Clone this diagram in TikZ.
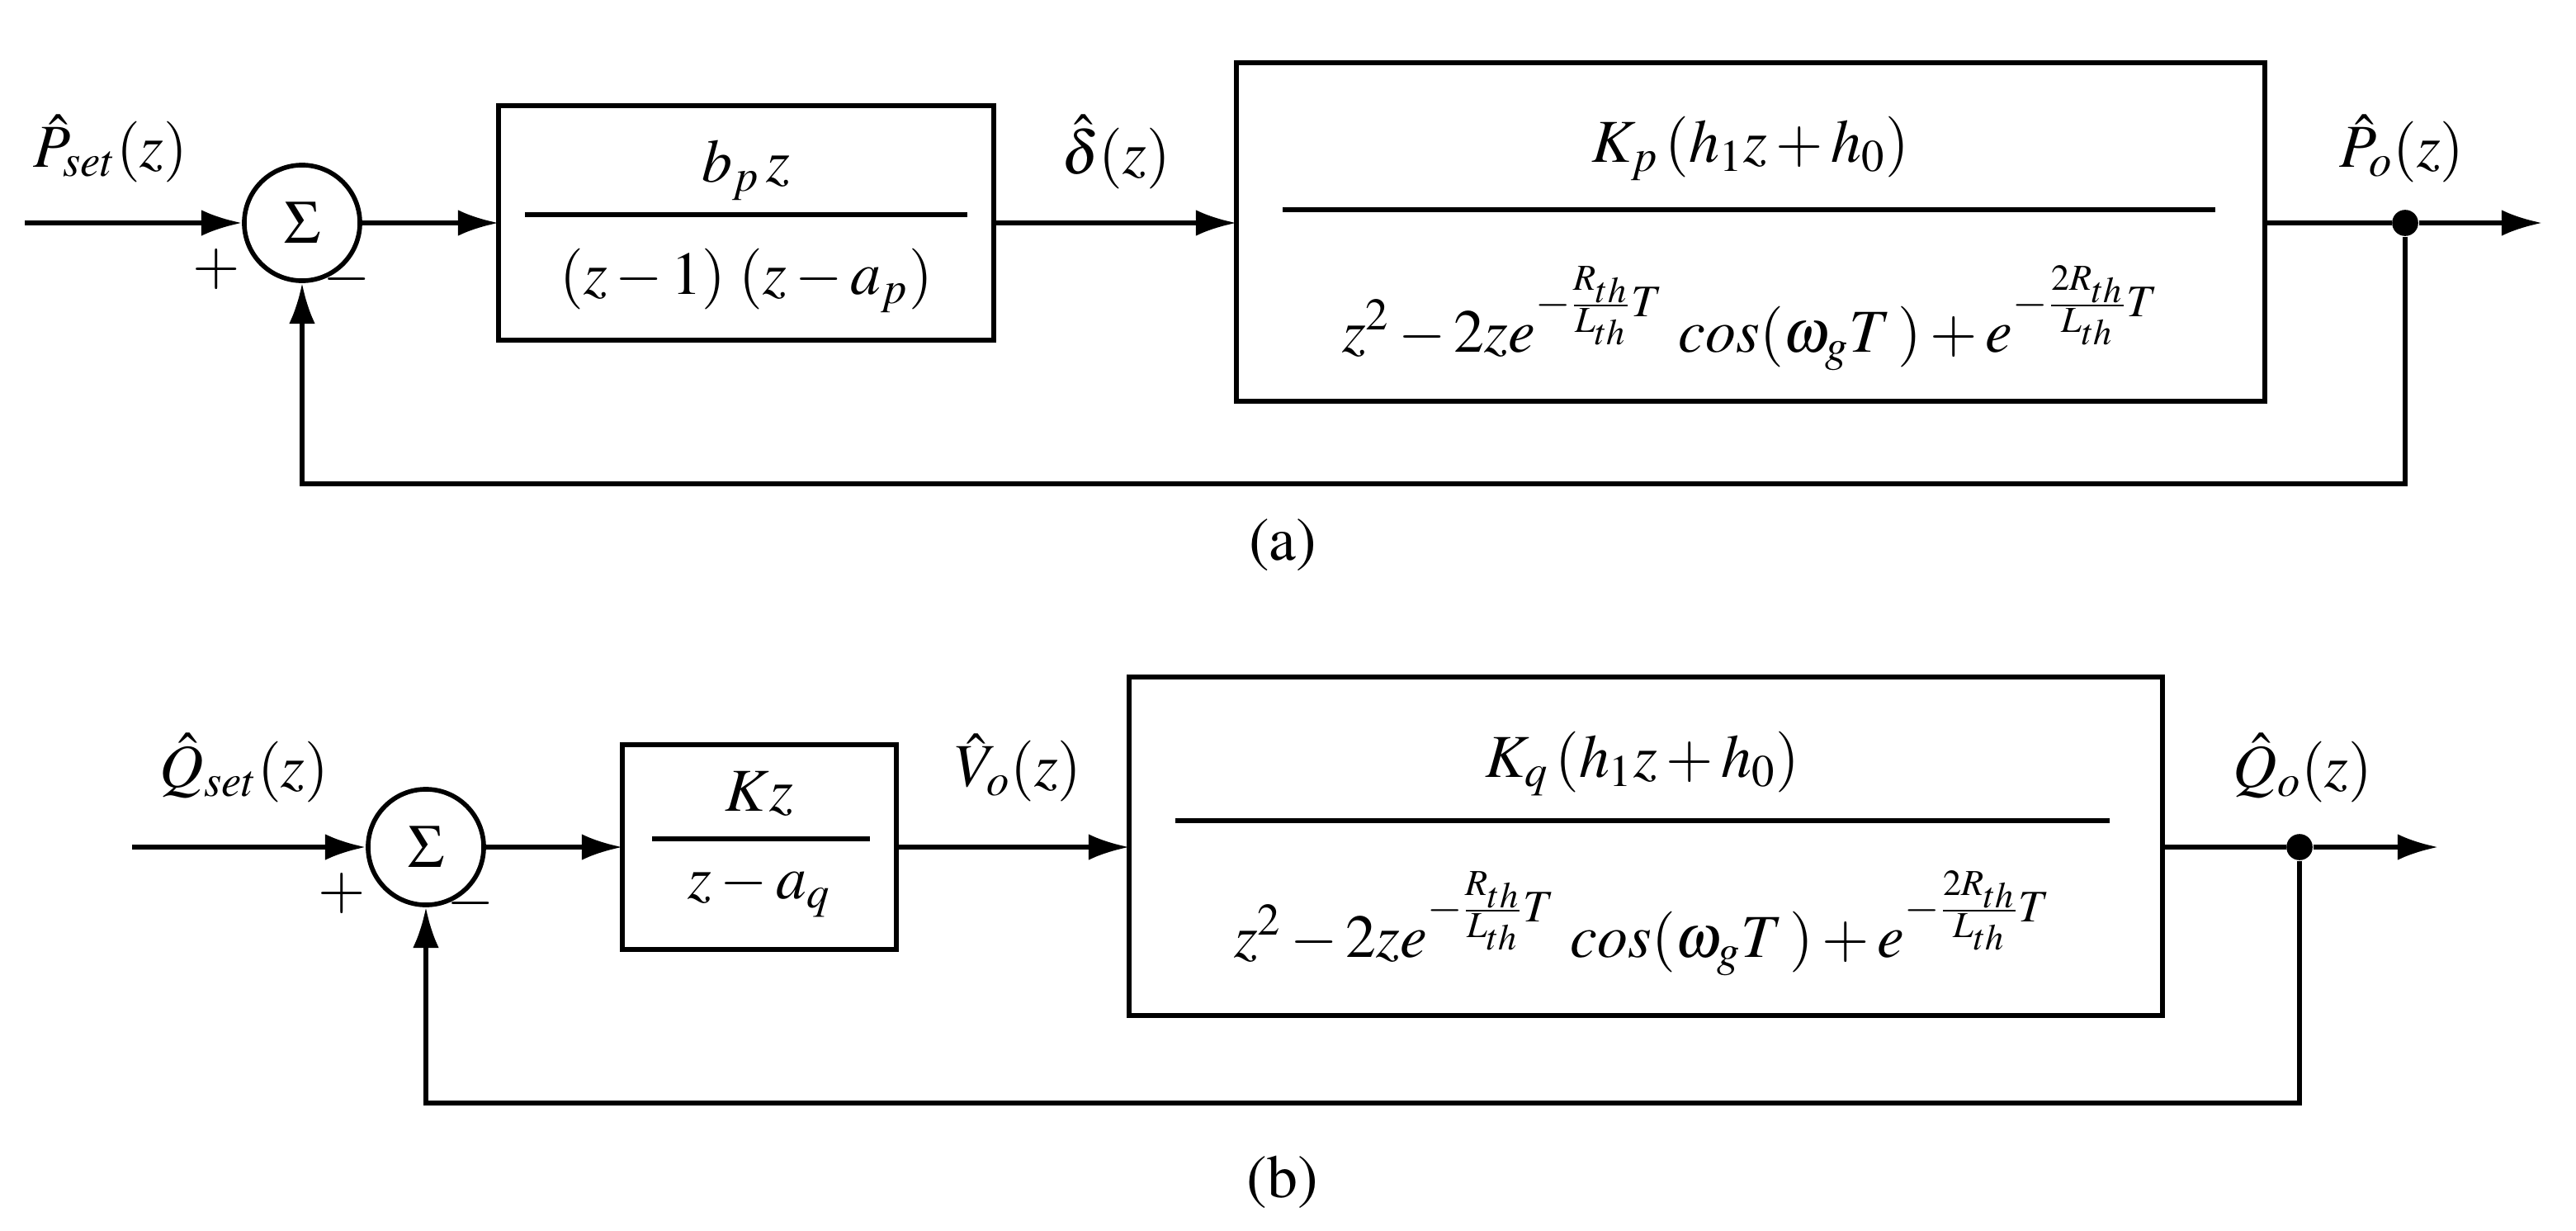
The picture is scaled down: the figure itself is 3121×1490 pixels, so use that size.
\documentclass[tikz,border=0pt]{standalone}
\usepackage[T1]{fontenc}
\usepackage{mathptmx}
\usetikzlibrary{arrows.meta}
\begin{document}
\begin{tikzpicture}[x=0.01cm,y=-0.01cm,
  every node/.style={font=\fontsize{21}{25}\selectfont},
  ln/.style={line width=1.6pt},
  ar/.style={ln,-{Latex[length=14pt,width=9pt]}},
  blk/.style={draw,line width=1.6pt,minimum width=0pt},
  sum/.style={draw,circle,line width=1.6pt,minimum size=1.4cm,inner sep=0pt},
  dot/.style={circle,fill,inner sep=0pt,minimum size=9pt}]
\useasboundingbox (0,0) rectangle (3121,1490);
% ---------- (a) ----------
\coordinate (ain) at (30,270);
\node[sum] (s1) at (366,270) {$\Sigma$};
\draw[blk] (604,128) rectangle (1204,412);
\coordinate (b1w) at (604,270); \coordinate (b1e) at (1204,270);
\node at (904,206) {$b_p\,z$};
\draw[ln] (636,260) -- (1172,260);
\node at (904,340) {$(z-1)\;(z-a_p)$};
\draw[blk] (1498,76) rectangle (2744,486);
\coordinate (b2w) at (1498,270); \coordinate (b2e) at (2744,270);
\node at (2121,180) {$K_p\,(h_1 z + h_0)$};
\draw[ln] (1554,254) -- (2684,254);
\node at (2121,385) {$z^2 - 2ze^{-\frac{R_{th}}{L_{th}}T}\ \mathit{cos}(\omega_g T\,) + e^{-\frac{2R_{th}}{L_{th}}T}$};
\node[dot] (d1) at (2914,270) {};
\coordinate (aout) at (3080,270);
\coordinate (fa1) at (2914,586); \coordinate (fa2) at (366,586);
\draw[ar] (ain) -- (s1.west);
\draw[ar] (s1.east) -- (b1w);
\draw[ar] (b1e) -- (b2w);
\draw[ln] (b2e) -- (d1);
\draw[ar] (d1) -- (aout);
\draw[ar] (d1) -- (fa1) -- (fa2) -- (s1.south);
\node at (134,180) {$\hat{P}_{set}(z)$};
\node at (1352,184) {$\hat{\delta}(z)$};
\node at (2910,180) {$\hat{P}_{o}(z)$};
\node at (262,326) {$+$};
\node at (420,338) {$-$};
\node at (1554,660) {(a)};
% ---------- (b) ----------
\coordinate (bin) at (160,1026);
\node[sum] (s2) at (516,1026) {$\Sigma$};
\draw[blk] (754,902) rectangle (1086,1150);
\coordinate (c1w) at (754,1026); \coordinate (c1e) at (1086,1026);
\node at (920,962) {$Kz$};
\draw[ln] (790,1016) -- (1054,1016);
\node at (920,1078) {$z-a_q$};
\draw[blk] (1368,820) rectangle (2620,1230);
\coordinate (c2w) at (1368,1026); \coordinate (c2e) at (2620,1026);
\node at (1990,925) {$K_q\,(h_1 z + h_0)$};
\draw[ln] (1424,994) -- (2556,994);
\node at (1990,1118) {$z^2 - 2ze^{-\frac{R_{th}}{L_{th}}T}\ \mathit{cos}(\omega_g T\,) + e^{-\frac{2R_{th}}{L_{th}}T}$};
\node[dot] (d2) at (2786,1026) {};
\coordinate (bout) at (2954,1026);
\coordinate (fb1) at (2786,1336); \coordinate (fb2) at (516,1336);
\draw[ar] (bin) -- (s2.west);
\draw[ar] (s2.east) -- (c1w);
\draw[ar] (c1e) -- (c2w);
\draw[ln] (c2e) -- (d2);
\draw[ar] (d2) -- (bout);
\draw[ar] (d2) -- (fb1) -- (fb2) -- (s2.south);
\node at (296,930) {$\hat{Q}_{set}(z)$};
\node at (1234,930) {$\hat{V}_{o}(z)$};
\node at (2790,930) {$\hat{Q}_{o}(z)$};
\node at (414,1082) {$+$};
\node at (570,1094) {$-$};
\node at (1554,1432) {(b)};
\end{tikzpicture}
\end{document}
